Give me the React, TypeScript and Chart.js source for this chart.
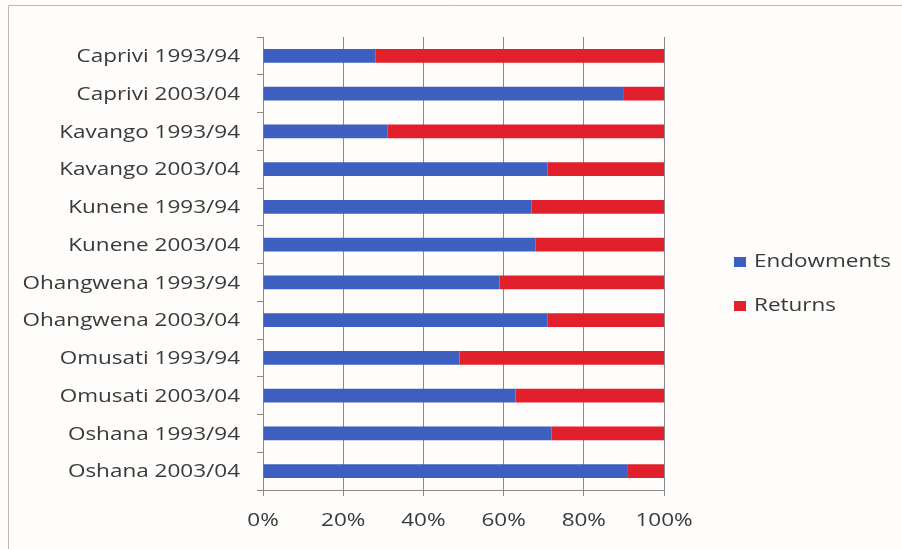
import React, { useEffect, useRef } from "react";
import { Chart, registerables } from "chart.js";

Chart.register(...registerables);

const categories = [
  "Caprivi 1993/94",
  "Caprivi 2003/04",
  "Kavango 1993/94",
  "Kavango 2003/04",
  "Kunene 1993/94",
  "Kunene 2003/04",
  "Ohangwena 1993/94",
  "Ohangwena 2003/04",
  "Omusati 1993/94",
  "Omusati 2003/04",
  "Oshana 1993/94",
  "Oshana 2003/04",
];
const endowments = [28, 90, 31, 71, 67, 68, 59, 71, 49, 63, 72, 91];
const returns = [72, 10, 69, 29, 33, 32, 41, 29, 51, 37, 28, 9];
const xTicks = [0, 20, 40, 60, 80, 100];

const FONT = "'Open Sans', 'DejaVu Sans', sans-serif";
const BLUE = "#3d5fbf";
const RED = "#e2202b";
const TEXT = "#3a3a3a";
const SX = 1.25;

function stretchedText(ctx: any, text: string, x: number, y: number, align: "left" | "right" | "center") {
  ctx.save();
  ctx.translate(x, y);
  ctx.scale(SX, 1);
  ctx.textAlign = align;
  ctx.fillText(text, 0, 0);
  ctx.restore();
}

const labelPlugin = {
  id: "labels",
  afterDraw(chart: any) {
    const ctx = chart.ctx;
    const xs = chart.scales.x;
    const ys = chart.scales.y;
    ctx.save();
    ctx.font = `18px ${FONT}`;
    ctx.fillStyle = TEXT;
    ctx.textBaseline = "middle";
    (chart.data.labels as string[]).forEach((lab, i) => {
      stretchedText(ctx, lab, 240, ys.getPixelForValue(i) + 1, "right");
    });
    xTicks.forEach((v) => {
      stretchedText(ctx, v + "%", xs.getPixelForValue(v), 521, "center");
    });
    // legend
    const yy = [262, 306];
    chart.data.datasets.forEach((d: any, i: number) => {
      ctx.fillStyle = d.backgroundColor;
      ctx.fillRect(734, yy[i] - 5, 12, 10);
      ctx.fillStyle = TEXT;
      stretchedText(ctx, d.label, 754, yy[i], "left");
    });
    ctx.restore();
  },
};

const bgPlugin = {
  id: "bg",
  beforeDraw(chart: any) {
    const ctx = chart.ctx;
    ctx.save();
    ctx.fillStyle = "#fefdfc";
    ctx.fillRect(0, 0, chart.width, chart.height);
    ctx.strokeStyle = "#b8b8b8";
    ctx.lineWidth = 1;
    ctx.beginPath();
    ctx.moveTo(8.5, 549);
    ctx.lineTo(8.5, 5.5);
    ctx.lineTo(902, 5.5);
    ctx.stroke();
    ctx.restore();
  },
};

export default function App() {
  const ref = useRef<HTMLCanvasElement>(null);
  useEffect(() => {
    if (!ref.current) return;
    const chart = new Chart(ref.current, {
      type: "bar",
      data: {
        labels: categories,
        datasets: [
          { label: "Endowments", data: endowments, backgroundColor: BLUE },
          { label: "Returns", data: returns, backgroundColor: RED },
        ],
      },
      plugins: [bgPlugin, labelPlugin],
      options: {
        indexAxis: "y",
        animation: false,
        responsive: false,
        maintainAspectRatio: false,
        layout: { padding: { top: 37, right: 238, bottom: 0, left: 0 } },
        datasets: { bar: { categoryPercentage: 1, barPercentage: 0.37 } },
        plugins: { legend: { display: false }, tooltip: { enabled: false } },
        scales: {
          x: {
            stacked: true,
            min: 0,
            max: 100,
            afterBuildTicks(scale: any) {
              scale.ticks = xTicks.map((v) => ({ value: v }));
            },
            afterFit(scale: any) {
              scale.height = 59;
            },
            ticks: { display: false },
            grid: { color: "#8a8a8a", tickLength: 6, drawTicks: true },
            border: { color: "#8a8a8a" },
          },
          y: {
            stacked: true,
            afterFit(scale: any) {
              scale.width = 263;
            },
            ticks: { display: false },
            grid: { offset: true, drawOnChartArea: false, tickLength: 6, drawTicks: true, color: "#8a8a8a" },
            border: { color: "#8a8a8a" },
          },
        },
      },
    });
    return () => chart.destroy();
  }, []);
  return (
    <div style={{ position: "fixed", left: 0, top: 0, width: 902, height: 549 }}>
      <canvas ref={ref} width={902} height={549} style={{ width: 902, height: 549 }} />
    </div>
  );
}
